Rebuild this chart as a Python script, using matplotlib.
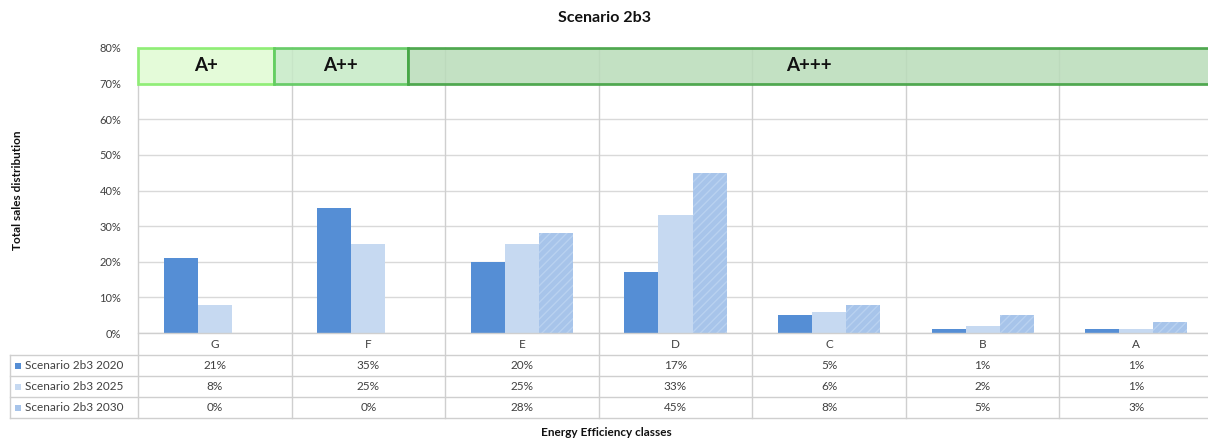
import matplotlib
matplotlib.use("Agg")
import matplotlib.pyplot as plt
from matplotlib.patches import Rectangle
import numpy as np

plt.rcParams['font.family'] = ['Lato', 'DejaVu Sans']

categories = ["G", "F", "E", "D", "C", "B", "A"]
series_names = ["Scenario 2b3 2020", "Scenario 2b3 2025", "Scenario 2b3 2030"]
v2020 = [21, 35, 20, 17, 5, 1, 1]
v2025 = [8, 25, 25, 33, 6, 2, 1]
v2030 = [0, 0, 28, 45, 8, 5, 3]
series = [v2020, v2025, v2030]
colors = ["#558ed5", "#c6d9f1", "#a7c4ea"]
yticks = [0, 10, 20, 30, 40, 50, 60, 70, 80]
bands = [("A+", -0.5, 0.385), ("A++", 0.385, 1.255), ("A+++", 1.255, 6.48)]
band_face = ["#e0fbd3", "#c6eac6", "#b9dcb9"]
band_edge = ["#84ee68", "#58c858", "#3b9f3b"]

W, H = 1208, 443
fig = plt.figure(figsize=(W / 100, H / 100), dpi=100)
L, R, B, T = 138, 1213, 333, 48
ax = fig.add_axes([L / W, 1 - B / H, (R - L) / W, (B - T) / H])

n = len(categories)
x = np.arange(n)
bw = 0.222
for i, (vals, c) in enumerate(zip(series, colors)):
    offs = (i - 1) * bw
    if i == 2:
        ax.bar(x + offs, vals, bw, color=c, edgecolor="#b9d1f0", linewidth=0,
               hatch="////", zorder=3)
    else:
        ax.bar(x + offs, vals, bw, color=c, linewidth=0, zorder=3)

ax.set_xlim(-0.5, n - 0.5)
ax.set_ylim(0, 80)
ax.set_yticks(yticks)
ax.set_yticklabels([f"{t}%" for t in yticks], fontsize=8, color="#404040")
ax.set_xticks([])
ax.tick_params(axis="y", length=0, pad=12)
for s in ax.spines.values():
    s.set_visible(False)
for t in yticks:
    ax.axhline(t, color="#d9d9d9", lw=1, zorder=1)

# bands
for (lab, x0, x1), fc, ec in zip(bands, band_face, band_edge):
    ax.add_patch(Rectangle((x0, 70), x1 - x0, 10, facecolor=fc, edgecolor=ec,
                           lw=2, alpha=0.85, zorder=4, clip_on=False))
    ax.text((x0 + x1) / 2, 75, lab, ha="center", va="center", fontsize=13.5,
            fontweight="bold", color="#111111", zorder=5)

def yf(py):
    return (B - py) / (B - T)

row_lines = [333, 355, 376, 397, 418]
trans = ax.get_xaxis_transform()
gc = "#cfcfcf"
for k in range(n + 1):
    xb = k - 0.5
    ax.plot([xb, xb], [yf(418), 1.0], transform=trans, color=gc, lw=1,
            clip_on=False, zorder=2)
for j, py in enumerate(row_lines):
    x0f = 10 / W if j > 0 else L / W
    fig.add_artist(plt.Line2D([x0f, 1.0], [1 - py / H, 1 - py / H],
                              color=gc, lw=1))
fig.add_artist(plt.Line2D([10 / W, 10 / W], [1 - 355 / H, 1 - 418 / H], color=gc, lw=1))

fs = 8.5
for k, c in enumerate(categories):
    ax.text(k, yf(344), c, transform=trans, ha="center", va="center",
            fontsize=fs, color="#404040")
centers = [365.5, 386.5, 407.5]
for i, (vals, name, col) in enumerate(zip(series, series_names, colors)):
    cy = 1 - centers[i] / H
    fig.add_artist(Rectangle((15 / W, cy - 3 / H), 6 / W, 6 / H, facecolor=col,
                             edgecolor="none", transform=fig.transFigure))
    fig.text(25 / W, cy, name, ha="left", va="center", fontsize=fs, color="#404040")
    for k, v in enumerate(vals):
        ax.text(k, yf(centers[i]), f"{v}%", transform=trans, ha="center",
                va="center", fontsize=fs, color="#404040")

fig.text(605 / W, 1 - 18 / H, "Scenario 2b3", ha="center", va="center",
         fontsize=11.5, fontweight="bold", color="#111111")
fig.text(606 / W, 1 - 432 / H, "Energy Efficiency classes", ha="center",
         va="center", fontsize=8.5, fontweight="bold", color="#111111")
fig.text(18 / W, 1 - 190 / H, "Total sales distribution", ha="center",
         va="center", rotation=90, fontsize=8.5, fontweight="bold", color="#111111")

fig.savefig("out.png", dpi=100)
